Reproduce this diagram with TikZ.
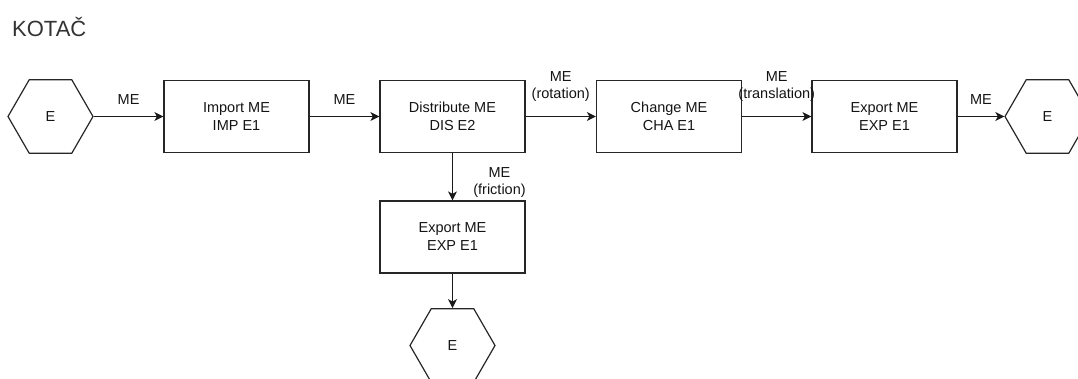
\documentclass[tikz,border=0pt]{standalone}
\usepackage{fontspec}
\setmainfont{Liberation Sans}
\usetikzlibrary{shapes.geometric,arrows.meta}
\begin{document}
\begin{tikzpicture}[x=1pt,y=-1pt,
  every node/.style={text=black!92},
  box/.style={draw=black!85, line width=1.2pt, rectangle, minimum width=145pt, minimum height=72pt, align=center, inner sep=0pt, font=\fontsize{14.5}{18}\selectfont},
  hexa/.style={draw=black!85, line width=1.2pt, regular polygon, regular polygon sides=6, minimum size=85pt, inner sep=0pt, font=\fontsize{14.5}{17}\selectfont},
  lbl/.style={align=center, inner sep=0pt, font=\fontsize{14.5}{17}\selectfont},
  conn/.style={draw=black!90, line width=1.2pt, -{Stealth[length=9pt,width=9pt,inset=2.5pt]}}
]
\useasboundingbox (0,0) rectangle (1078,378);
\node[anchor=west, inner sep=0pt, text=black!80, font=\fontsize{22}{24}\selectfont] (title) at (12,27) {KOTAČ};

\node[hexa] (h1) at (50.5,116.5) {E};
\node[box] (imp) at (236.5,116.5) {Import ME\\IMP E1};
\node[box] (dis) at (452.5,116.5) {Distribute ME\\DIS E2};
\node[box] (cha) at (669,116.5) {Change ME\\CHA E1};
\node[box] (exp1) at (884.5,116.5) {Export ME\\EXP E1};
\node[hexa] (h2) at (1047.5,116.5) {E};
\node[box] (exp2) at (452.5,237) {Export ME\\EXP E1};
\node[hexa] (h3) at (452.5,345.5) {E};

\draw[conn] (h1.corner 6) -- node[lbl, yshift=17pt] {ME} (imp.west);
\draw[conn] (imp.east) -- node[lbl, yshift=17pt] {ME} (dis.west);
\draw[conn] (dis.east) -- node[lbl, yshift=30pt] {ME\\(rotation)} (cha.west);
\draw[conn] (cha.east) -- node[lbl, yshift=30pt] {ME\\(translation)} (exp1.west);
\draw[conn] (exp1.east) -- node[lbl, yshift=17pt] {ME} (h2.corner 3);
\draw[conn] (dis.south) -- node[lbl, xshift=47pt, yshift=-6pt] {ME\\(friction)} (exp2.north);
\draw[conn] (exp2.south) -- (h3.side 1);
\end{tikzpicture}
\end{document}
